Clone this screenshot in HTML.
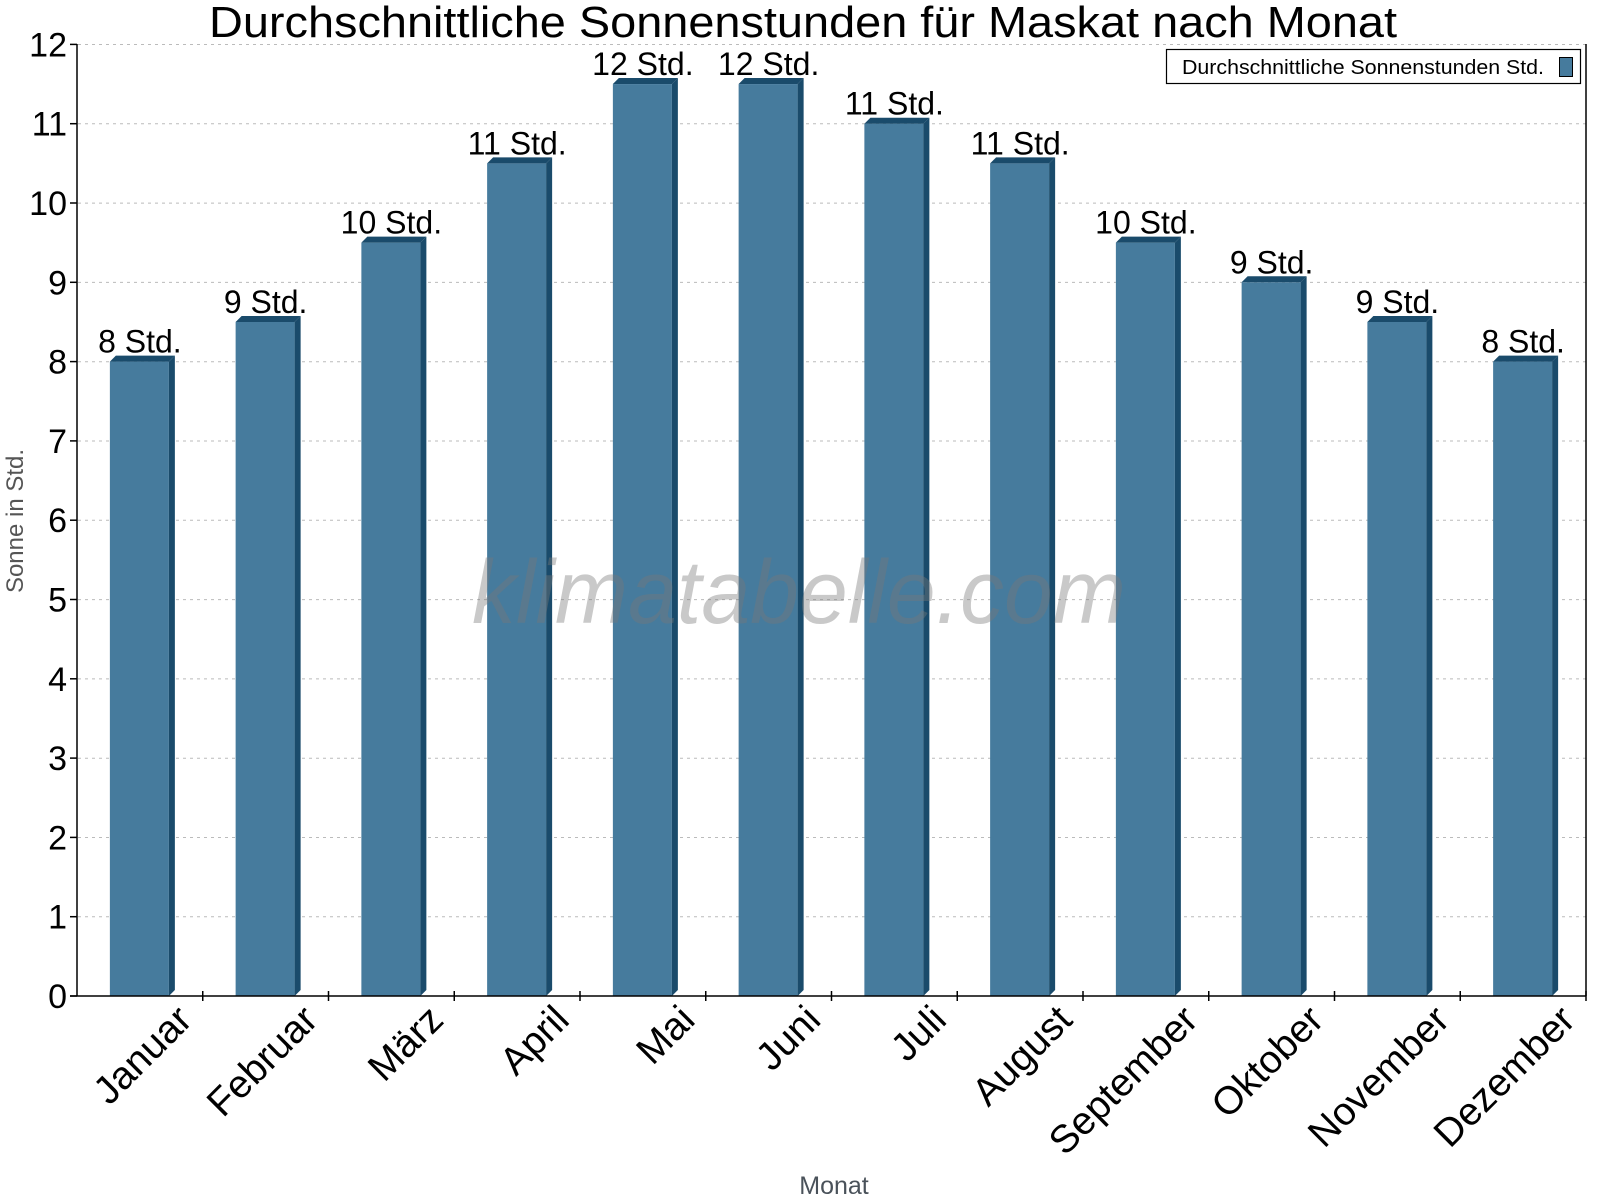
<!DOCTYPE html>
<html><head><meta charset="utf-8"><style>html,body{margin:0;padding:0;background:#fff}svg{display:block}</style></head>
<body>
<svg width="1600" height="1200" viewBox="0 0 1600 1200" xmlns="http://www.w3.org/2000/svg" font-family="Liberation Sans, Arial, sans-serif">
<rect width="1600" height="1200" fill="#fff"/>
<text x="803" y="37" font-size="44" text-anchor="middle" textLength="1188" lengthAdjust="spacingAndGlyphs">Durchschnittliche Sonnenstunden für Maskat nach Monat</text>
<g stroke="#bbb" stroke-width="1" stroke-dasharray="3,4">
<line x1="78" y1="44.5" x2="1586" y2="44.5"/><line x1="78" y1="123.8" x2="1586" y2="123.8"/><line x1="78" y1="203.1" x2="1586" y2="203.1"/><line x1="78" y1="282.4" x2="1586" y2="282.4"/><line x1="78" y1="361.7" x2="1586" y2="361.7"/><line x1="78" y1="441" x2="1586" y2="441"/><line x1="78" y1="520.3" x2="1586" y2="520.3"/><line x1="78" y1="599.6" x2="1586" y2="599.6"/><line x1="78" y1="678.9" x2="1586" y2="678.9"/><line x1="78" y1="758.2" x2="1586" y2="758.2"/><line x1="78" y1="837.5" x2="1586" y2="837.5"/><line x1="78" y1="916.8" x2="1586" y2="916.8"/>
</g>
<g id="bars"></g>
<text x="799" y="623" font-size="90" font-style="italic" fill="#777" fill-opacity="0.4" text-anchor="middle" textLength="654" lengthAdjust="spacingAndGlyphs">klimatabelle.com</text>
<g stroke="#000" stroke-width="1.5">
<line x1="77" y1="44" x2="77" y2="996"/><line x1="1586" y1="44" x2="1586" y2="996"/><line x1="70" y1="996" x2="1586" y2="996"/>
</g>
<g id="ticks" stroke="#000" stroke-width="1.5"></g>
<g id="ylab" font-size="34" text-anchor="end"></g>
<g id="xlab" font-size="39" text-anchor="end"></g>
<g id="vlab" font-size="32" text-anchor="middle"></g>
<text transform="translate(23,521) rotate(-90)" font-size="24" fill="#555" text-anchor="middle">Sonne in Std.</text>
<text x="834" y="1194" font-size="25" fill="#4a525a" text-anchor="middle">Monat</text>
<rect x="1166.5" y="49.5" width="414" height="34" fill="#fff" stroke="#000" stroke-width="1.2"/>
<text x="1182" y="74" font-size="20" textLength="362" lengthAdjust="spacingAndGlyphs">Durchschnittliche Sonnenstunden Std.</text>
<rect x="1559.5" y="57.5" width="13" height="19" fill="#467b9d" stroke="#000" stroke-width="1"/>
<script>
var ns="http://www.w3.org/2000/svg";
var v=[8,8.5,9.5,10.5,11.5,11.5,11,10.5,9.5,9,8.5,8];
var l=[8,9,10,11,12,12,11,11,10,9,9,8];
var m=["Januar","Februar","März","April","Mai","Juni","Juli","August","September","Oktober","November","Dezember"];
var x0=77,w=125.75,y0=996,u=79.3;
function el(t,a,p,txt){var e=document.createElementNS(ns,t);for(var k in a)e.setAttribute(k,a[k]);if(txt!==undefined)e.textContent=txt;document.getElementById(p).appendChild(e);return e;}
for(var i=0;i<12;i++){
 var c=x0+w*i+w/2, L=c-30, R=c+29, T=y0-v[i]*u;
 el("rect",{x:L,y:T,width:59,height:y0-T,fill:"#467b9d"},"bars");
 el("polygon",{points:(R)+","+T+" "+(R+6)+","+(T-6)+" "+(R+6)+","+(y0-6)+" "+(R)+","+y0,fill:"#1a4b6b"},"bars");
 el("polygon",{points:L+","+T+" "+(L+6)+","+(T-6)+" "+(R+6)+","+(T-6)+" "+R+","+T,fill:"#1a4b6b"},"bars");
 el("text",{x:c,y:T-9},"vlab",l[i]+" Std.");
 el("text",{transform:"translate("+(c+54)+",1022) rotate(-45)"},"xlab",m[i]);
 var tx=x0+w*(i+1);
 el("line",{x1:tx,y1:991,x2:tx,y2:1001},"ticks");
}
for(var j=0;j<=12;j++){
 var y=y0-j*u;
 el("line",{x1:70,y1:y,x2:77,y2:y},"ticks");
 el("text",{x:67,y:y+12},"ylab",String(j));
}
</script>
</svg>
</body></html>
